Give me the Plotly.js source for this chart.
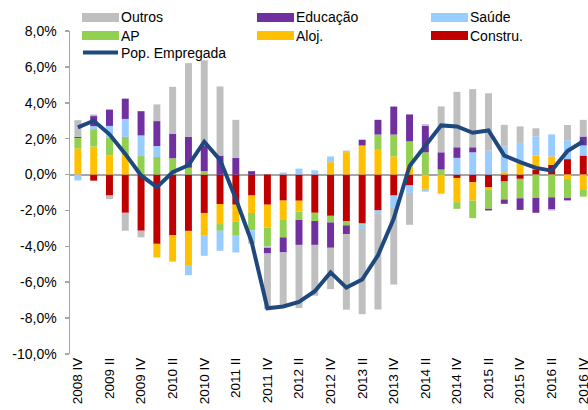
<!DOCTYPE html>
<html>
<head>
<meta charset="utf-8">
<script src="https://cdn.plot.ly/plotly-3.0.1.min.js"></script>
<style>
html,body{margin:0;padding:0;background:#fff;}
#chart{width:588px;height:410px;}
</style>
</head>
<body>
<div id="chart"></div>
<script>
const quarters = ["2008 IV","2009 I","2009 II","2009 III","2009 IV","2010 I","2010 II","2010 III","2010 IV",
  "2011 I","2011 II","2011 III","2011 IV","2012 I","2012 II","2012 III","2012 IV",
  "2013 I","2013 II","2013 III","2013 IV","2014 I","2014 II","2014 III","2014 IV",
  "2015 I","2015 II","2015 III","2015 IV","2016 I","2016 II","2016 III","2016 IV"];
const tickLabels = ["2008 IV","2009 II","2009 IV","2010 II","2010 IV","2011 II","2011 IV","2012 II","2012 IV",
  "2013 II","2013 IV","2014 II","2014 IV","2015 II","2015 IV","2016 II","2016 IV"];
const yTicks = [-10,-8,-6,-4,-2,0,2,4,6,8];
const yTickText = ["-10,0%","-8,0%","-6,0%","-4,0%","-2,0%","0,0%","2,0%","4,0%","6,0%","8,0%"];

const constru = [0,-0.34,-1.17,-2.13,-3.13,-3.86,-3.37,-3.14,-2.14,-1.64,-1.68,-1.17,-1.68,-1.45,-1.46,-2.13,-2.3,
  -2.59,-2.70,-2.0,-1.17,-0.61,0,0,-0.19,-0.43,-0.7,-0.39,-0.24,0.28,0.54,0.86,1.06];
const aloj = [1.46,1.56,1.06,1.06,0,-0.76,-1.48,-1.95,-1.27,-1.12,-0.93,-0.97,-1.28,-1.08,-0.61,0,0.69,
  1.25,1.62,1.38,1.01,0.45,-0.8,-1.07,-1.35,-1.02,-0.15,0.13,0.6,0.77,0.47,-0.25,-0.86];
const ap = [0.58,0.97,1.0,1.04,1.03,0.98,0.91,0.38,0.19,-0.37,-0.80,-0.97,-1.05,-0.97,-0.46,-0.46,-0.37,
  -0.24,-0.09,0.85,1.22,1.4,1.24,0.28,-0.37,-0.98,-1.06,-1.0,-1.08,-1.30,-1.27,-1.06,-0.37];
const saude = [-0.33,0.17,0.65,1.0,1.15,0.61,0,-0.52,-1.12,-1.12,-0.93,-0.55,-0.07,0.11,0.33,0.24,0.32,
  0.09,-0.24,-0.19,-0.69,-0.41,-0.15,0,0.93,1.24,1.33,1.43,1.17,1.08,1.23,1.05,0.56];
const educ = [0.07,0.56,0.91,1.13,1.35,1.39,1.37,1.73,1.43,1.06,0.93,0.19,-0.32,-0.84,-1.39,-1.33,-1.41,
  -0.5,0.32,0.82,1.56,1.5,1.48,0.96,0.59,0.28,-0.09,-0.24,-0.65,-0.83,-0.65,-0.13,0.5];
const outros = [0.92,0.09,-0.2,-1.0,-0.37,0.93,2.61,4.1,4.75,3.85,2.12,-0.2,-3.1,-2.98,-3.52,-2.83,-2.31,
  -4.2,-4.75,-5.33,-4.27,-1.78,0.09,2.56,3.09,3.24,3.2,1.21,0.91,0.45,-0.09,0.85,0.93];
const popEmp = [2.63,3.0,2.24,1.15,-0.05,-0.7,0.13,0.52,1.83,0.82,-1.35,-3.75,-7.45,-7.35,-7.1,-6.5,-5.45,
  -6.3,-5.85,-4.5,-2.45,0.47,1.6,2.74,2.68,2.33,2.46,1.06,0.69,0.37,0.22,1.31,1.86];

const names = ["Constru.","Aloj.","AP","Saúde","Educação","Outros"];
const colors = {"Constru.":"#C00000","Aloj.":"#FFC000","AP":"#92D050","Saúde":"#99CCFF","Educação":"#7030A0","Outros":"#BFBFBF"};
const lineName = "Pop. Empregada";
const lineColor = "#1F497D";
const seriesData = [constru, aloj, ap, saude, educ, outros];

const traces = seriesData.map((vals, k) => ({
  type: "bar", x: quarters, y: vals, name: names[k],
  marker: {color: colors[names[k]], line: {width: 0}},
  hoverinfo: "skip"
}));
traces.push({
  type: "scatter", mode: "lines", x: quarters, y: popEmp, name: lineName,
  line: {color: lineColor, width: 4}, hoverinfo: "skip"
});

// custom legend (pixel positions converted to paper coords)
const W = 588, H = 410, mL = 70, mR = 0, mT = 31, mB = 56;
const pw = W - mL - mR, ph = H - mT - mB;
const px = v => (v - mL) / pw;
const py = v => (H - mB - v) / ph;
const legendItems = [
  {name:"Outros", col:0, row:0}, {name:"Educação", col:1, row:0}, {name:"Saúde", col:2, row:0},
  {name:"AP", col:0, row:1}, {name:"Aloj.", col:1, row:1}, {name:"Constru.", col:2, row:1},
  {name:lineName, col:0, row:2, line:true}
];
const colX = [82, 257, 431];
const rowY = [17.5, 35.5, 52.5];
const shapes = [], annotations = [];
legendItems.forEach(it => {
  const x0 = colX[it.col], x1 = x0 + 37, yc = rowY[it.row];
  if (it.line) {
    shapes.push({type:"line", xref:"paper", yref:"paper", x0:px(x0+1), x1:px(x1-1), y0:py(yc), y1:py(yc),
      line:{color:lineColor, width:4}});
  } else {
    shapes.push({type:"rect", xref:"paper", yref:"paper", x0:px(x0), x1:px(x1), y0:py(yc-4.5), y1:py(yc+4.5),
      fillcolor:colors[it.name], line:{width:0}});
  }
  annotations.push({xref:"paper", yref:"paper", x:px(x1), y:py(yc), text:it.name, showarrow:false,
    xanchor:"left", yanchor:"middle", font:{size:14, color:"#000"}});
});

const layout = {
  width: W, height: H,
  margin: {l: mL, r: mR, t: mT, b: mB, pad: 0},
  paper_bgcolor: "#fff", plot_bgcolor: "#fff",
  font: {family: "Liberation Sans, Arial, sans-serif", size: 14, color: "#000"},
  barmode: "relative",
  bargap: 0.56,
  showlegend: false,
  xaxis: {
    type: "category", range: [-0.5, 32.3], tickmode: "array", tickvals: tickLabels, ticktext: tickLabels,
    tickangle: -90, showline: false, ticks: "", showgrid: false, zeroline: false,
    tickfont: {size: 13.5}, automargin: false
  },
  yaxis: {
    range: [-10, 8], tickmode: "array", tickvals: yTicks, ticktext: yTickText,
    showline: true, linecolor: "#A6A6A6", linewidth: 1.5,
    ticks: "outside", ticklen: 4, tickcolor: "#A6A6A6", tickwidth: 1.5,
    ticklabelstandoff: 5,
    showgrid: false, zeroline: true, zerolinecolor: "#A6A6A6", zerolinewidth: 2,
    layer: "above traces", tickfont: {size: 14}, automargin: false
  },
  shapes: shapes,
  annotations: annotations
};

Plotly.newPlot("chart", traces, layout, {staticPlot: true, displayModeBar: false});
</script>
</body>
</html>
